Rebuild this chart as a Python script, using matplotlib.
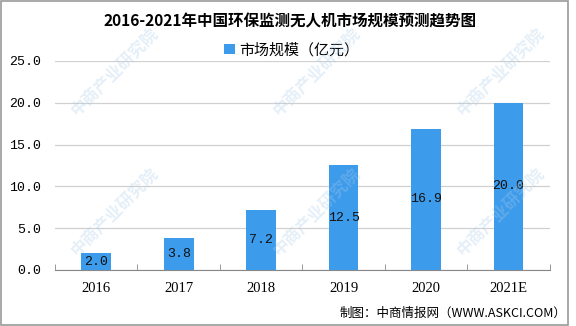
import matplotlib
matplotlib.use('Agg')
import matplotlib.pyplot as plt
import numpy as np
from matplotlib.patches import Rectangle

plt.rcParams['font.family'] = ['Noto Sans CJK SC', 'DejaVu Sans']

years = ['2016', '2017', '2018', '2019', '2020', '2021E']
values = [2.0, 3.8, 7.2, 12.5, 16.9, 20.0]
yticks = [0, 5, 10, 15, 20, 25]

bar_color = '#3D9BEB'
num_font = ['Liberation Mono', 'DejaVu Sans Mono']

fig = plt.figure(figsize=(5.76, 3.26), dpi=100)
ax = fig.add_axes([0.0955, 0.172, 0.859, 0.641])

# faint watermark
for wx, wy in [(0.2, 0.78), (0.55, 0.78), (0.87, 0.78), (0.2, 0.35), (0.55, 0.35), (0.87, 0.35)]:
    fig.text(wx, wy, '中商产业研究院', rotation=45, fontsize=12, color='#A9CBE8',
             alpha=0.3, ha='center', va='center', fontweight='bold', zorder=0)

x = np.arange(len(years))
bars = ax.bar(x, values, width=0.36, color=bar_color, zorder=3, label='市场规模（亿元）')
for xi, v in zip(x, values):
    ax.text(xi, v / 2, f'{v:.1f}', ha='center', va='center', fontsize=9.5,
            family=num_font, color='#111111', zorder=4)

ax.set_xlim(-0.5, len(years) - 0.5)
ax.set_ylim(0, 25)
ax.set_yticks(yticks)
ax.set_yticklabels([f'{t:.1f}' for t in yticks], family=num_font, fontsize=9.5)
ax.set_xticks(x)
ax.set_xticklabels(years, family=['Liberation Serif', 'DejaVu Serif'], fontsize=10.5)
ax.tick_params(axis='y', length=0, pad=10)
ax.tick_params(axis='x', length=0, pad=9)
ax.set_xticks(np.arange(-0.5, len(years)), minor=True)
ax.tick_params(axis='x', which='minor', length=4, color='#888888', direction='in')
ax.grid(axis='y', color='#D0D0D0', linewidth=0.9, zorder=0)
for s in ['top', 'right', 'left']:
    ax.spines[s].set_visible(False)
ax.spines['bottom'].set_color('#888888')
ax.patch.set_alpha(0)

fig.text(0.503, 0.935, '2016-2021年中国环保监测无人机市场规模预测趋势图',
         ha='center', va='center', fontsize=11.2, fontweight='bold')
leg = ax.legend(loc='center', bbox_to_anchor=(0.478, 1.053), frameon=False,
                fontsize=10.8, handlelength=0.7, handleheight=0.7, handletextpad=0.3)
fig.text(0.983, 0.04, '制图：中商情报网（WWW.ASKCI.COM）', ha='right', va='center', fontsize=9)

fig.patches.append(Rectangle((0.001, 0.002), 0.985, 0.996, transform=fig.transFigure,
                             fill=False, edgecolor='#999999', linewidth=1.2))

fig.savefig('out.png', dpi=100)
